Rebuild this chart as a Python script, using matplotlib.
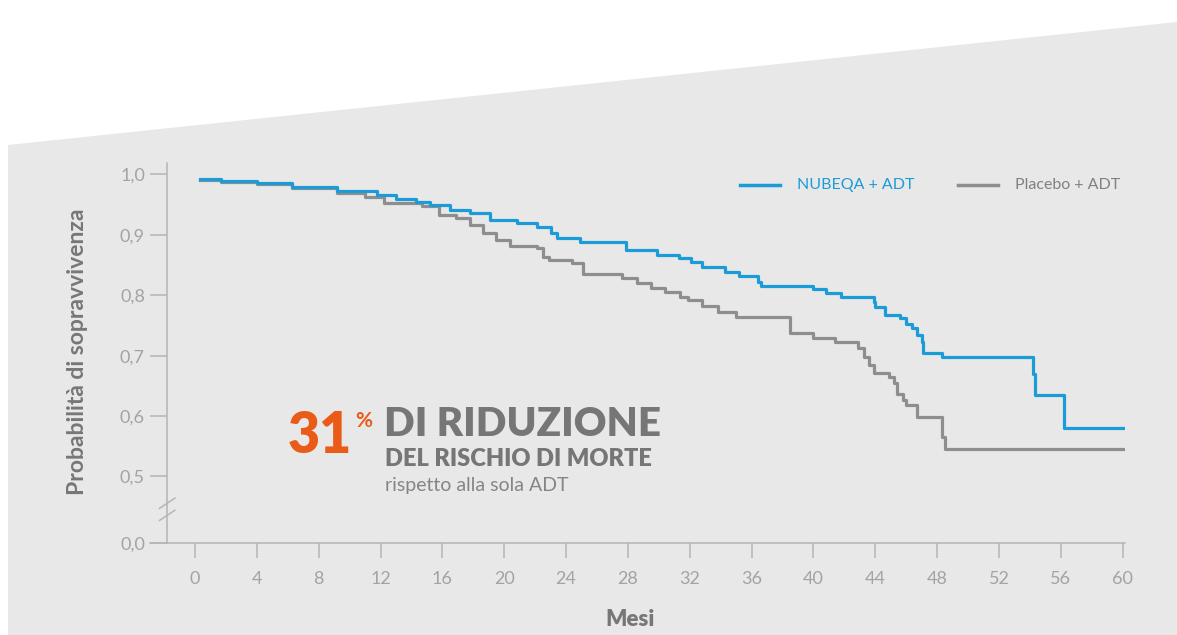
import matplotlib
matplotlib.use('Agg')
import matplotlib.pyplot as plt
from matplotlib.patches import Polygon

# --- data ---
months_ticks = list(range(0, 61, 4))
y_ticks = [0.5, 0.6, 0.7, 0.8, 0.9, 1.0]
y_tick_labels = ['0,5', '0,6', '0,7', '0,8', '0,9', '1,0']

nubeqa_t = [0.3, 1.7, 4.0, 6.3, 9.2, 11.8, 13.0, 14.3, 15.2, 16.5, 17.8, 19.1,
            20.8, 22.1, 23.0, 23.4, 24.9, 27.9, 29.9, 31.3, 32.1, 32.8, 34.3,
            35.2, 36.4, 36.6, 40.0, 40.8, 41.8, 43.9, 44.0, 44.6, 45.6, 46.0,
            46.4, 46.7, 47.0, 47.1, 48.3, 54.2, 54.3, 56.2, 60.2]
nubeqa_s = [0.992, 0.989, 0.986, 0.979, 0.973, 0.966, 0.960, 0.955, 0.950,
            0.941, 0.936, 0.925, 0.919, 0.913, 0.903, 0.895, 0.888, 0.875,
            0.866, 0.862, 0.855, 0.847, 0.838, 0.832, 0.822, 0.815, 0.810,
            0.804, 0.797, 0.788, 0.780, 0.768, 0.762, 0.753, 0.745, 0.734,
            0.722, 0.705, 0.697, 0.670, 0.634, 0.580, 0.580]

placebo_t = [0.3, 1.7, 4.0, 6.3, 9.2, 11.0, 12.2, 14.7, 15.8, 16.9, 17.8,
             18.6, 19.5, 20.4, 22.1, 22.5, 22.9, 24.4, 25.1, 27.6, 28.6, 29.5,
             30.4, 31.4, 31.9, 32.8, 33.8, 35.0, 38.5, 40.0, 41.4, 42.9, 43.3,
             43.6, 43.9, 44.9, 45.2, 45.4, 45.8, 46.0, 46.7, 48.3, 48.5, 60.2]
placebo_s = [0.991, 0.988, 0.984, 0.977, 0.970, 0.962, 0.953, 0.947,
             0.933, 0.928, 0.916, 0.903, 0.891, 0.881, 0.878, 0.863, 0.858,
             0.853, 0.836, 0.828, 0.820, 0.812, 0.805, 0.797, 0.792, 0.783,
             0.772, 0.764, 0.737, 0.730, 0.722, 0.712, 0.697, 0.684, 0.672,
             0.664, 0.654, 0.637, 0.626, 0.618, 0.598, 0.565, 0.545, 0.545]

BLUE = '#1b9bd7'
GREY = '#8e8e8e'
ORANGE = '#ea5b17'
TEXT = '#777777'
LIGHT = '#a3a3a3'
AXIS = '#b5b5b5'
BG = '#e8e8e8'

W, H = 1177, 635
ZERO_POS = 0.3897  # where "0,0" sits on the broken axis

plt.rcParams['font.family'] = ['Lato', 'DejaVu Sans']

fig = plt.figure(figsize=(W / 100, H / 100), dpi=100)
fig.patch.set_facecolor('white')


def fx(x):
    return x / W


def fy(y):
    return 1 - y / H


# slanted grey backdrop
fig.patches.append(Polygon([(fx(8), fy(145)), (fx(W), fy(22)), (fx(W), 0), (fx(8), 0)],
                           closed=True, transform=fig.transFigure,
                           facecolor=BG, edgecolor='none', zorder=-10))

ax = fig.add_axes([fx(150), fy(543), fx(1125) - fx(150), fy(163) - fy(543)])
ax.set_zorder(2)
ax.set_facecolor('none')
ax.set_xlim(-2.91, 60.15)
ax.set_ylim(ZERO_POS, 1.019)

ax.step(placebo_t, placebo_s, where='post', color=GREY, lw=2.3, zorder=3)
ax.step(nubeqa_t, nubeqa_s, where='post', color=BLUE, lw=2.3, zorder=4)

for s in ['top', 'right']:
    ax.spines[s].set_visible(False)
ax.spines['left'].set_position(('data', -1.8))
ax.spines['left'].set_color(AXIS)
ax.spines['bottom'].set_color(AXIS)
ax.spines['left'].set_linewidth(1.1)
ax.spines['bottom'].set_linewidth(1.1)

ax.set_xticks(months_ticks)
ax.set_xticklabels([str(m) for m in months_ticks])
ax.set_yticks([ZERO_POS] + y_ticks)
ax.set_yticklabels(['0,0'] + y_tick_labels)
ax.tick_params(axis='x', length=11, width=1.1, color=AXIS, labelcolor=LIGHT,
               labelsize=13, pad=9, direction='out')
ax.tick_params(axis='y', length=12, width=1.1, color=AXIS, labelcolor=LIGHT,
               labelsize=13, pad=4, direction='out')

# axis break marks
for dy in (0, 0.02):
    ax.plot([-2.3, -1.3], [0.447 - dy, 0.464 - dy], color=AXIS, lw=1.1,
            clip_on=False, zorder=5)

fig.text(fx(630), fy(620), 'Mesi', ha='center', va='center',
         fontsize=16, fontweight='heavy', color=TEXT)
fig.text(fx(78), fy(352), 'Probabilità di sopravvivenza', ha='center', va='center',
         rotation=90, fontsize=16.5, fontweight='bold', color=TEXT)

# legend
fig.lines.append(plt.Line2D([fx(740), fx(780)], [fy(185), fy(185)],
                            transform=fig.transFigure, color=BLUE, lw=2.5))
fig.text(fx(797), fy(185), 'NUBEQA + ADT', va='center', ha='left',
         fontsize=11.5, color=BLUE)
fig.lines.append(plt.Line2D([fx(958), fx(998)], [fy(185), fy(185)],
                            transform=fig.transFigure, color=GREY, lw=2.5))
fig.text(fx(1015), fy(185), 'Placebo + ADT', va='center', ha='left',
         fontsize=11.5, color='#808080')

# callout
fig.text(fx(288), fy(453), '31', ha='left', va='baseline', fontsize=40,
         fontweight='heavy', color=ORANGE)
fig.text(fx(355), fy(427), '%', ha='left', va='baseline', fontsize=15,
         fontweight='bold', color=ORANGE)
fig.text(fx(384), fy(436), 'DI RIDUZIONE', ha='left', va='baseline', fontsize=29,
         fontweight='heavy', color='#767676')
fig.text(fx(385), fy(466), 'DEL RISCHIO DI MORTE', ha='left', va='baseline',
         fontsize=17, fontweight='heavy', color='#767676')
fig.text(fx(385), fy(491), 'rispetto alla sola ADT', ha='left', va='baseline',
         fontsize=14, color='#858585')

fig.savefig('out.png', dpi=100, facecolor=fig.get_facecolor())
